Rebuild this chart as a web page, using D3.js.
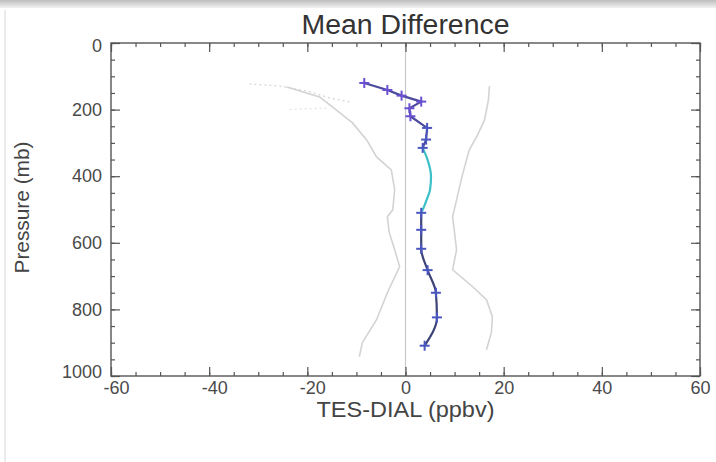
<!DOCTYPE html>
<html>
<head>
<meta charset="utf-8">
<script src="https://cdn.jsdelivr.net/npm/d3@7"></script>
<style>
  body { margin: 0; background: #fff; }
  svg { display: block; font-family: "Liberation Sans", Arial, sans-serif; }
</style>
</head>
<body>
<svg id="chart" width="716" height="462"></svg>
<script>
// Mean difference profile (blue, with markers)
const meanPressure = [120, 141, 158, 176, 196, 220, 255, 290, 315, 510, 561, 618, 682, 750, 824, 909];
const meanDiff     = [-8.4, -3.7, -0.8, 3.2, 0.8, 1.0, 4.4, 4.2, 3.5, 3.2, 3.2, 3.2, 4.5, 6.2, 6.4, 3.9];

// Cyan stretch of the mean profile
const cyanPressure = [315, 351, 401, 441, 471, 501, 510];
const cyanDiff     = [3.5, 4.5, 5.2, 5.0, 4.3, 3.5, 3.2];

// Left / right grey envelopes
const leftPressure = [132, 162, 192, 240, 291, 342, 381, 441, 501, 522, 570, 621, 672, 750, 831, 900, 942];
const leftDiff     = [-24.2, -17.5, -14.9, -10.8, -7.9, -5.9, -2.9, -2.2, -2.6, -3.7, -3.3, -2.2, -1.2, -3.7, -5.9, -8.8, -9.4];
const rightPressure = [129, 171, 231, 276, 321, 396, 471, 522, 570, 621, 681, 732, 771, 822, 870, 921];
const rightDiff     = [17.1, 16.9, 16.1, 14.7, 13.0, 11.6, 10.4, 9.6, 10.0, 10.4, 9.6, 13.7, 16.5, 17.7, 17.5, 16.5];

// Faint dotted bits at the top left
const dotPressure = [123, 129, 146, 165, 177];
const dotDiff     = [-31.8, -25.7, -19.6, -15.5, -11.4];
const dot2Pressure = [200, 195];
const dot2Diff     = [-23.6, -15.5];

const xTicks = [-60, -40, -20, 0, 20, 40, 60];
const yTicks = [0, 200, 400, 600, 800, 1000];

const svg = d3.select('#chart');
const plotLeft = 111, plotRight = 700, plotTop = 43, plotBottom = 376;

const x = d3.scaleLinear().domain([-60, 60]).range([plotLeft, plotRight]);
const y = d3.scaleLinear().domain([0, 1000]).range([plotTop, plotBottom]);

// frame of the screenshot
const grad = svg.append('defs').append('linearGradient')
    .attr('id', 'topband').attr('x1', 0).attr('y1', 0).attr('x2', 0).attr('y2', 1);
grad.append('stop').attr('offset', '0%').attr('stop-color', '#bdbdbd');
grad.append('stop').attr('offset', '100%').attr('stop-color', '#f2f2f2');
svg.append('rect').attr('x', 0).attr('y', 0).attr('width', 716).attr('height', 8).attr('fill', 'url(#topband)');
svg.append('line').attr('x1', 5).attr('x2', 5).attr('y1', 10).attr('y2', 462)
    .attr('stroke', '#e4e4e4').attr('stroke-width', 1.5);

// zero line
svg.append('line')
    .attr('x1', x(0)).attr('x2', x(0)).attr('y1', plotTop).attr('y2', plotBottom)
    .attr('stroke', '#c8c8c8').attr('stroke-width', 1.2);

const line = d3.line().x(d => x(d[0])).y(d => y(d[1]));
const curve = d3.line().x(d => x(d[0])).y(d => y(d[1])).curve(d3.curveMonotoneY);

function drawSeries(xs, ps, color, width, dash, fn) {
    svg.append('path')
        .datum(xs.map((v, i) => [v, ps[i]]))
        .attr('d', fn || line)
        .attr('fill', 'none')
        .attr('stroke', color)
        .attr('stroke-width', width)
        .attr('stroke-dasharray', dash || null);
}

drawSeries(dotDiff, dotPressure, '#d6d6d6', 1.3, '2,3');
drawSeries(dot2Diff, dot2Pressure, '#e2e2e2', 1.2, '2,3');
drawSeries(leftDiff, leftPressure, '#d3d3d3', 1.6);
drawSeries(rightDiff, rightPressure, '#d3d3d3', 1.6);

// mean profile, upper and lower blue parts, cyan middle
drawSeries(meanDiff.slice(0, 9), meanPressure.slice(0, 9), '#4b4a9c', 2.2);
drawSeries(cyanDiff, cyanPressure, '#3cc0c8', 2.2, null, curve);
drawSeries(meanDiff.slice(9), meanPressure.slice(9), '#3e4478', 2.2, null, curve);

// plus markers
const marks = svg.append('g');
meanDiff.forEach((v, i) => {
    const cx = x(v), cy = y(meanPressure[i]);
    const col = meanPressure[i] < 250 ? '#6a4fd0' : '#4a56c0';
    marks.append('line').attr('x1', cx - 5).attr('x2', cx + 5).attr('y1', cy).attr('y2', cy)
        .attr('stroke', col).attr('stroke-width', 2);
    marks.append('line').attr('x1', cx).attr('x2', cx).attr('y1', cy - 5).attr('y2', cy + 5)
        .attr('stroke', col).attr('stroke-width', 2);
});

// axes with inward ticks
function styleAxis(g) {
    g.select('.domain').remove();
    g.selectAll('.tick line').attr('stroke', '#555').attr('stroke-width', 1.2);
    g.selectAll('.tick text').attr('fill', '#4a4a4a').attr('font-size', 18)
        .attr('font-family', '"Liberation Sans", Arial, sans-serif');
}

const xMinor = d3.range(-60, 61, 5);
const yMinor = d3.range(0, 1001, 50);
const plain = d => String(d);

svg.append('g').attr('transform', `translate(0,${plotBottom})`)
    .call(d3.axisBottom(x).tickValues(xMinor).tickSize(-4).tickFormat(''))
    .call(styleAxis);
svg.append('g').attr('transform', `translate(0,${plotBottom})`)
    .call(d3.axisBottom(x).tickValues(xTicks).tickSize(-9).tickFormat(plain))
    .call(styleAxis)
    .selectAll('.tick text')
    .attr('y', 4).attr('dy', '0.75em')
    .attr('dx', d => d < 0 ? 5 : 0);
svg.append('g').attr('transform', `translate(0,${plotTop})`)
    .call(d3.axisTop(x).tickValues(xMinor).tickSize(-4).tickFormat(''))
    .call(styleAxis);
svg.append('g').attr('transform', `translate(0,${plotTop})`)
    .call(d3.axisTop(x).tickValues(xTicks).tickSize(-9).tickFormat(''))
    .call(styleAxis);

svg.append('g').attr('transform', `translate(${plotLeft},0)`)
    .call(d3.axisLeft(y).tickValues(yMinor).tickSize(-4).tickFormat(''))
    .call(styleAxis);
svg.append('g').attr('transform', `translate(${plotLeft},0)`)
    .call(d3.axisLeft(y).tickValues(yTicks).tickSize(-9).tickFormat(plain))
    .call(styleAxis)
    .selectAll('.tick text')
    .attr('x', -9)
    .attr('dy', d => d === 1000 ? '0.1em' : (d === 0 ? '0.45em' : '0.32em'));
svg.append('g').attr('transform', `translate(${plotRight},0)`)
    .call(d3.axisRight(y).tickValues(yMinor).tickSize(-4).tickFormat(''))
    .call(styleAxis);
svg.append('g').attr('transform', `translate(${plotRight},0)`)
    .call(d3.axisRight(y).tickValues(yTicks).tickSize(-9).tickFormat(''))
    .call(styleAxis);

// plot frame
svg.append('rect')
    .attr('x', plotLeft).attr('y', plotTop).attr('width', plotRight - plotLeft).attr('height', plotBottom - plotTop)
    .attr('fill', 'none').attr('stroke', '#555').attr('stroke-width', 1.4);

// titles
svg.append('text')
    .attr('x', x(0)).attr('y', 34).attr('text-anchor', 'middle')
    .attr('font-size', 27).attr('fill', '#333')
    .attr('textLength', 208).attr('lengthAdjust', 'spacingAndGlyphs')
    .text('Mean Difference');

svg.append('text')
    .attr('x', x(0)).attr('y', 417).attr('text-anchor', 'middle')
    .attr('font-size', 22).attr('fill', '#444')
    .attr('textLength', 178).attr('lengthAdjust', 'spacingAndGlyphs')
    .text('TES-DIAL (ppbv)');

svg.append('text')
    .attr('transform', `translate(29,${y(500) - 2}) rotate(-90)`)
    .attr('text-anchor', 'middle')
    .attr('font-size', 21).attr('fill', '#444')
    .attr('textLength', 132).attr('lengthAdjust', 'spacingAndGlyphs')
    .text('Pressure (mb)');
</script>
</body>
</html>
